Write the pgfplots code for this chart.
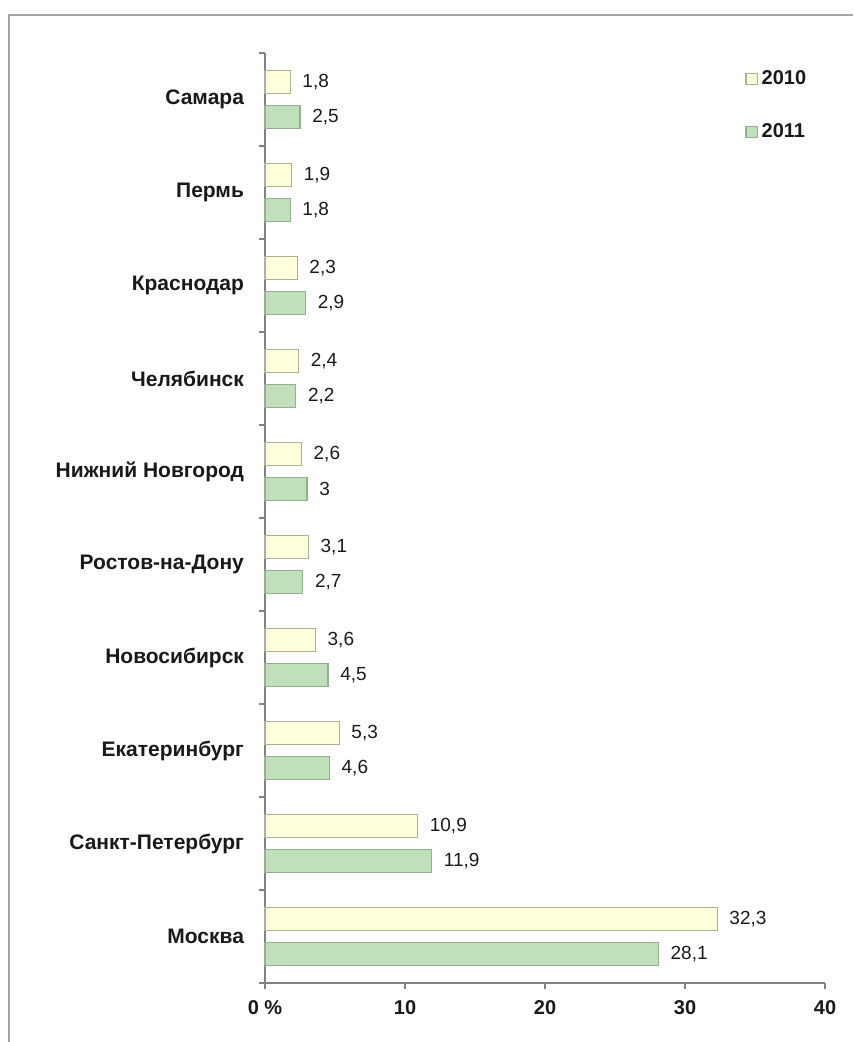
\documentclass[border=0pt]{standalone}
\usepackage{pgfplots}
\pgfplotsset{compat=1.18}
\usepackage{fontspec}
\setmainfont{Liberation Sans}
\definecolor{yfill}{RGB}{255,255,221}
\definecolor{ydraw}{RGB}{175,175,150}
\definecolor{gfill}{RGB}{192,224,188}
\definecolor{gdraw}{RGB}{150,175,148}
\definecolor{axgray}{RGB}{130,130,130}
\definecolor{txt}{RGB}{25,25,25}
\begin{document}
\begin{tikzpicture}
\useasboundingbox (0,0) rectangle (426.5pt,521pt);
\draw[color={rgb,255:red,165;green,165;blue,165}, line width=0.8pt] (4.5pt,0pt) -- (4.5pt,513.5pt) -- (426.5pt,513.5pt);
\begin{axis}[
  at={(132.5pt,29.5pt)}, anchor=south west,
  scale only axis, width=280pt, height=465pt,
  xbar, bar width=11.5pt,
  xmin=0, xmax=40, ymin=-0.5, ymax=9.5,
  axis x line*=bottom, axis y line*=left,
  axis line style={draw=axgray, line width=0.7pt},
  tick style={draw=axgray, line width=0.7pt},
  tick align=outside, major tick length=3pt,
  xtick={0,10,20,30,40},
  xticklabels={0 \%,10,20,30,40},
  xticklabel style={font=\bfseries\fontsize{10}{12}\selectfont, text=txt, yshift=-2pt},
  ytick={-0.5,0.5,...,9.5},
  yticklabels={},
  extra y ticks={0,1,2,3,4,5,6,7,8,9},
  extra y tick labels={Москва,Санкт-Петербург,Екатеринбург,Новосибирск,Ростов-на-Дону,Нижний Новгород,Челябинск,Краснодар,Пермь,Самара},
  extra y tick style={major tick length=0pt, yticklabel style={font=\bfseries\fontsize{10.5}{12.5}\selectfont, text=txt, xshift=-7pt}},
  /pgf/number format/.cd, use comma, 1000 sep={}, assume math mode=true,
  /pgfplots/.cd,
  nodes near coords,
  every node near coord/.append style={font=\fontsize{9.5}{11}\selectfont, text=txt, anchor=west, xshift=2.5pt},
  legend style={at={(0.985,0.99)}, anchor=north east, draw=none, fill=none,
    font=\bfseries\fontsize{10}{12}\selectfont, text=txt, row sep=14pt,
    /tikz/every even column/.append style={column sep=0pt}},
  legend cell align=left,
  legend image code/.code={\draw[#1] (0pt,-2.8pt) rectangle (5.6pt,2.8pt);},
  clip=false,
]
\addplot[fill=yfill, draw=ydraw, line width=0.6pt, bar shift=8.75pt] coordinates {
 (32.3,0) (10.9,1) (5.3,2) (3.6,3) (3.1,4) (2.6,5) (2.4,6) (2.3,7) (1.9,8) (1.8,9)};
\addlegendentry{2010}
\addplot[fill=gfill, draw=gdraw, line width=0.6pt, bar shift=-8.75pt] coordinates {
 (28.1,0) (11.9,1) (4.6,2) (4.5,3) (2.7,4) (3,5) (2.2,6) (2.9,7) (1.8,8) (2.5,9)};
\addlegendentry{2011}
\end{axis}
\end{tikzpicture}
\end{document}
